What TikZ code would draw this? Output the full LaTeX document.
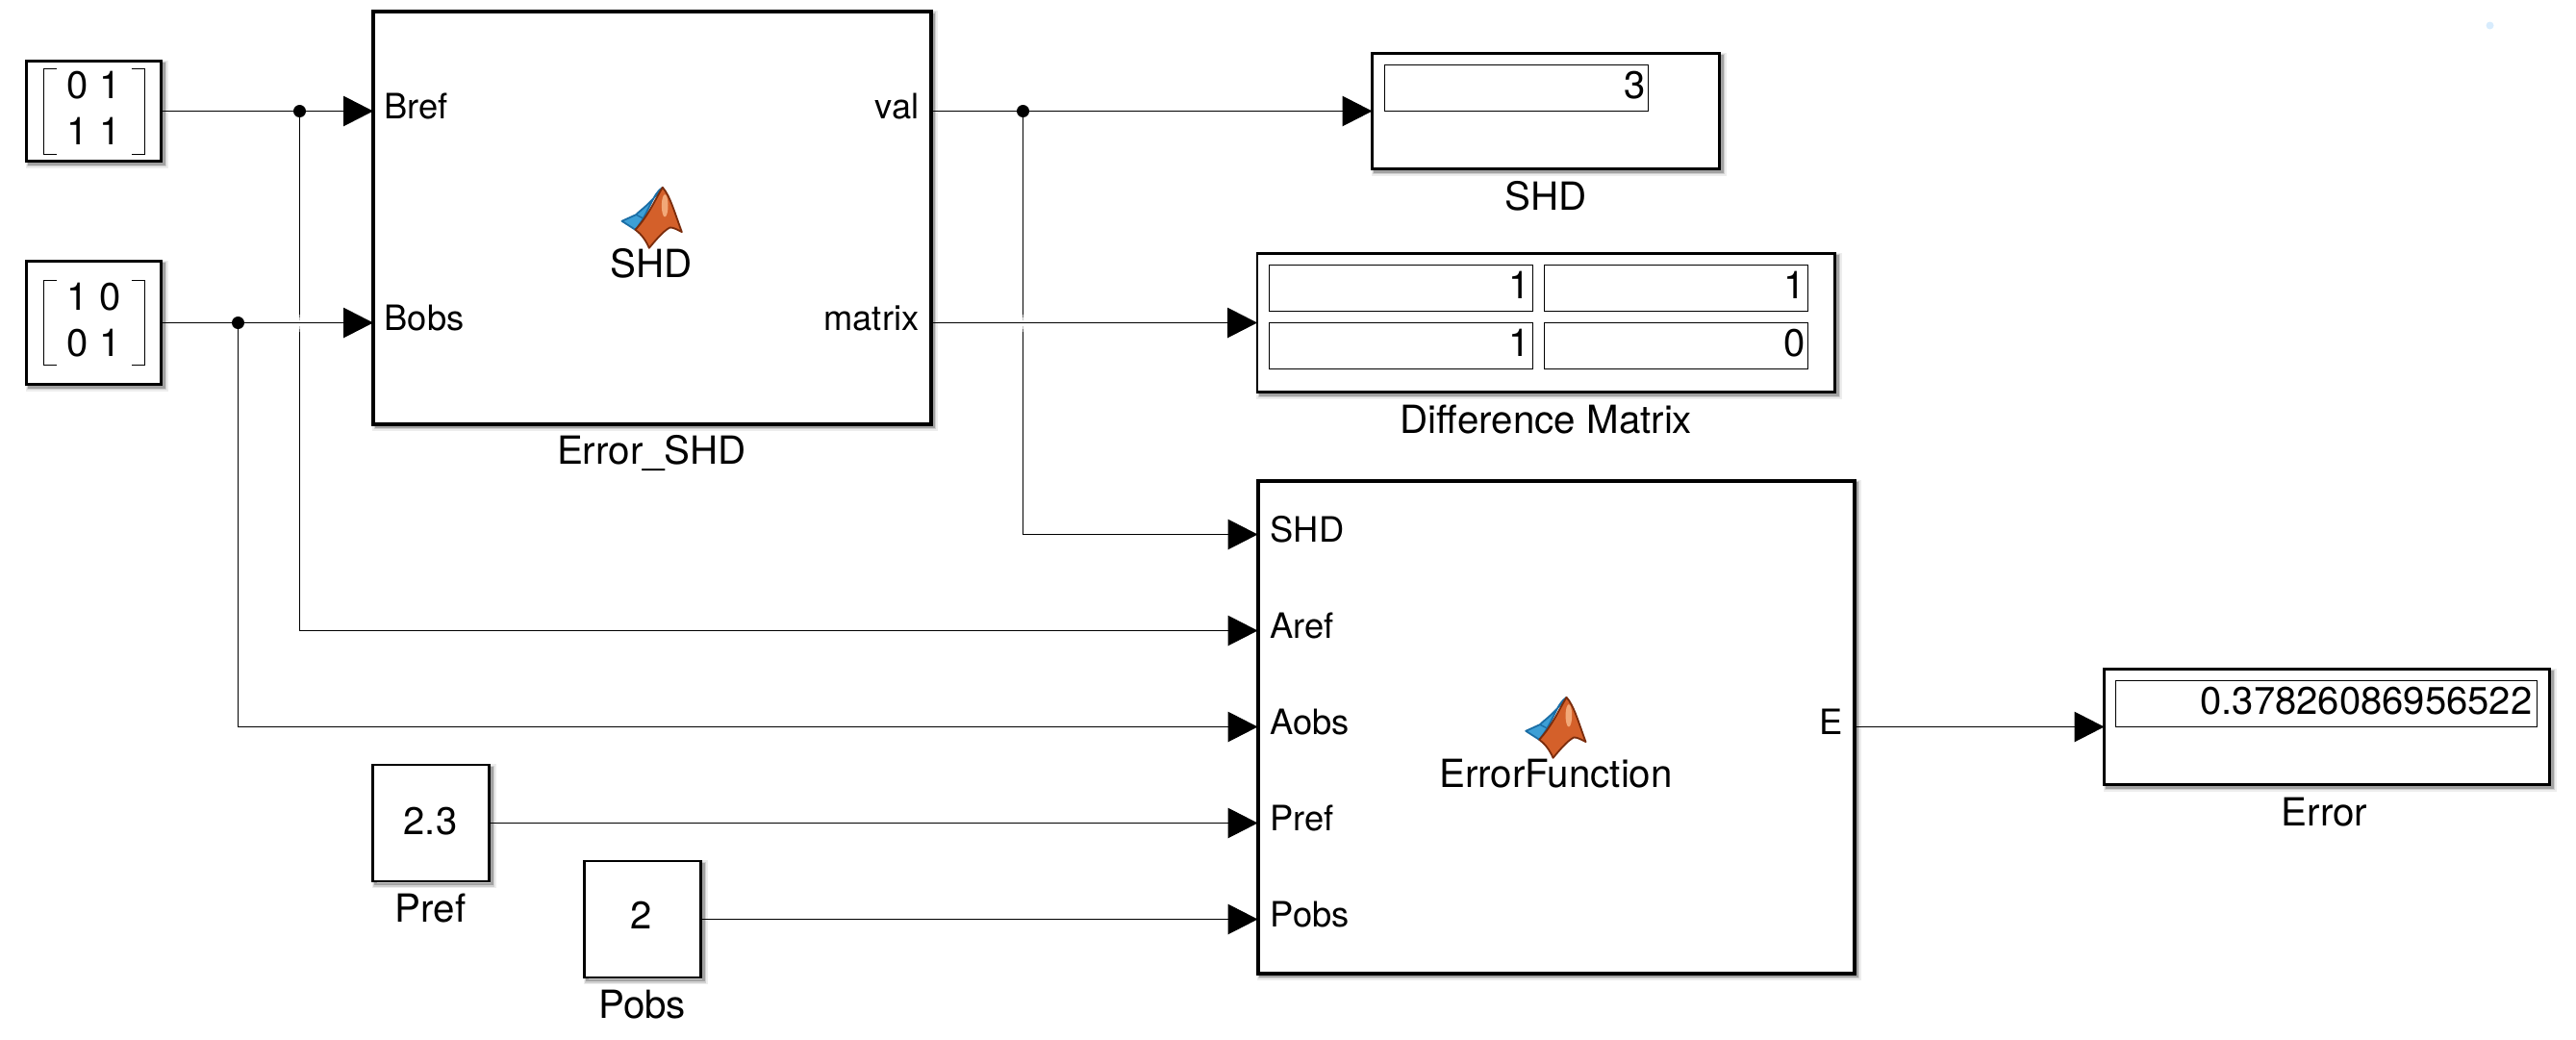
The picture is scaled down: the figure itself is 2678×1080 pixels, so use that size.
\documentclass[tikz,border=0pt]{standalone}
\usepackage{fontspec}
\setmainfont{TeX Gyre Heros}
\usetikzlibrary{arrows.meta}
\newcommand{\lblfont}{\fontsize{40.3}{45}\selectfont}
\newcommand{\valfont}{\fontsize{40}{45}\selectfont}
\newcommand{\portfont}{\fontsize{36.3}{41}\selectfont}
\definecolor{logoOrange}{HTML}{D4602A}
\definecolor{logoEdge}{HTML}{7A2C0C}
\definecolor{logoBlue}{HTML}{3D9FD6}
\definecolor{logoBlueEdge}{HTML}{1B6EA6}
\definecolor{logoLight}{HTML}{F2A878}
\definecolor{speck}{HTML}{D8ECFD}
\tikzset{
  softshadow/.style={
    preaction={draw=black,opacity=.07,line width=8pt,transform canvas={xshift=3pt,yshift=-3pt}},
    preaction={draw=black,opacity=.12,line width=5pt,transform canvas={xshift=3pt,yshift=-3pt}},
    preaction={draw=black,opacity=.22,line width=2.5pt,transform canvas={xshift=3pt,yshift=-3pt}}},
  blk/.style={draw=black,fill=white,line width=2.6pt,inner sep=0pt,outer sep=0pt,softshadow},
  mainblk/.style={blk,line width=4pt},
  cell/.style={draw=black,line width=1pt,inner sep=0pt,outer sep=0pt,minimum height=48pt},
  wire/.style={draw=black,line width=1pt},
  conn/.style={wire,-{Triangle[length=31pt,width=31.5pt,fill=black]}},
  jdot/.style={circle,fill=black,inner sep=0pt,minimum size=13pt,outer sep=0pt},
  val/.style={font=\valfont,inner sep=0pt,anchor=base},
  valr/.style={font=\valfont,inner sep=0pt,anchor=base east},
  lbl/.style={font=\lblfont,inner sep=0pt,anchor=base},
  port/.style={font=\portfont,inner sep=0pt,anchor=base west},
  portr/.style={font=\portfont,inner sep=0pt,anchor=base east},
  brk/.style={draw=black,line width=1pt},
  mlogo/.pic={
    \begin{scope}[x=0.3333pt,y=-0.3333pt,line join=round]
      \fill[logoBlue,draw=logoBlueEdge,line width=1.8pt] (0,0) -- (44,-20) .. controls (62,-38) and (85,-50) .. (127,-105) .. controls (95,-85) and (85,-25) .. (42,27) -- cycle;
      \draw[logoBlueEdge,line width=1.4pt] (44,-20) -- (75,-4);
      \fill[logoOrange,draw=logoEdge,line width=1.8pt] (127,-105) .. controls (150,-80) and (165,-25) .. (187,34) .. controls (170,25) and (160,20) .. (150,20) .. controls (130,30) and (105,60) .. (85,84) .. controls (75,60) and (60,40) .. (42,27) .. controls (85,-20) and (105,-70) .. (127,-105) -- cycle;
      \fill[logoLight] (134,-48) ellipse [x radius=10,y radius=35];
    \end{scope}
  }
}
\begin{document}
\begin{tikzpicture}[x=1pt,y=-1pt]
\useasboundingbox (0,0) rectangle (2678,1080);
\begin{scope}[shift={(0.5,0.5)}]

% speck in the top right corner
\fill[speck] (2588,26) circle [radius=4];

% blocks
\node[blk,minimum width=140pt,minimum height=104pt] (c1) at (97,115) {};
\node[blk,minimum width=140pt,minimum height=128pt] (c2) at (97,335) {};
\node[mainblk,minimum width=579.5pt,minimum height=428.7pt] (shd) at (677.25,225.65) {};
\node[mainblk,minimum width=620pt,minimum height=512pt] (ef) at (1617,755) {};
\node[blk,minimum width=361pt,minimum height=120pt] (dS) at (1606.5,115) {};
\node[blk,minimum width=600.5pt,minimum height=144pt] (dD) at (1606.75,335) {};
\node[blk,minimum width=463pt,minimum height=120pt] (dE) at (2418.5,755) {};
\node[blk,minimum width=121pt,minimum height=121pt] (pf) at (447.5,855) {};
\node[blk,minimum width=121pt,minimum height=121pt] (pb) at (667.5,955) {};

% display cells
\node[cell,minimum width=274pt] (cS) at (1576,91) {};
\node[cell,minimum width=274pt] (cD11) at (1456,299) {};
\node[cell,minimum width=274pt] (cD12) at (1742,299) {};
\node[cell,minimum width=274pt] (cD21) at (1456,359) {};
\node[cell,minimum width=274pt] (cD22) at (1742,359) {};
\node[cell,minimum width=438pt] (cE) at (2417.5,731) {};

% matrix brackets
\draw[brk] (58,71) -| (44.5,160) -- (58,160);
\draw[brk] (136,71) -| (149.5,160) -- (136,160);
\draw[brk] (58,291) -| (44.5,379) -- (58,379);
\draw[brk] (136,291) -| (149.5,379) -- (136,379);

% texts
\node[val] (t01) at (97,102) {0 1};
\node[val] (t11) at (97,149.5) {1 1};
\node[val] (t10) at (97,322) {1 0};
\node[val] (t02) at (97,369.5) {0 1};
\node[val] (v23) at (447,867) {2.3};
\node[val] (v2) at (666,965) {2};
\node[valr] (vS) at (1710,102) {3};
\node[valr] (v11) at (1590,310) {1};
\node[valr] (v12) at (1876,310) {1};
\node[valr] (v21) at (1590,370) {1};
\node[valr] (v22) at (1876,370) {0};
\node[valr] (vE) at (2632,742) {0.37826086956522};

\node[lbl] (lshd) at (677,482) {Error\_SHD};
\node[lbl] (tshd) at (676.5,288) {SHD};
\node[lbl] (tef) at (1617,818) {ErrorFunction};
\node[lbl] (ldS) at (1606.5,218) {SHD};
\node[lbl] (ldD) at (1607,450) {Difference Matrix};
\node[lbl] (ldE) at (2416,858) {Error};
\node[lbl] (lpf) at (447,958) {Pref};
\node[lbl] (lpb) at (667,1058) {Pobs};

\node[port] (pBref) at (399,123) {Bref};
\node[port] (pBobs) at (399,343) {Bobs};
\node[portr] (pval) at (955,123) {val};
\node[portr] (pmat) at (955,343) {matrix};
\node[port] (pSHD) at (1320,563) {SHD};
\node[port] (pAref) at (1320,663) {Aref};
\node[port] (pAobs) at (1320,763) {Aobs};
\node[port] (pPref) at (1320,863) {Pref};
\node[port] (pPobs) at (1320,963) {Pobs};
\node[portr] (pE) at (1915,763) {E};

% logos
\pic at (646,229.3) {mlogo};
\pic at (1585.7,759.3) {mlogo};

% junctions
\node[jdot] (j1) at (311,115) {};
\node[jdot] (j2) at (247,335) {};
\node[jdot] (j3) at (1063,115) {};

% input points on the ErrorFunction block
\coordinate (iS) at (ef.west |- 0,555);
\coordinate (iAr) at (ef.west |- 0,655);
\coordinate (iAo) at (ef.west |- 0,755);

% vertical branches
\draw[conn] (j1) |- (iAr);
\draw[conn] (j2) |- (iAo);
\draw[conn] (j3) |- (iS);

% fading of the vertical lines where a horizontal line crosses
\foreach \cx in {311,1063}{
  \draw[white,opacity=.4,line width=1.6pt] (\cx,326) -- (\cx,344);
  \draw[white,opacity=.6,line width=1.6pt] (\cx,329) -- (\cx,341);
  \draw[white,line width=1.6pt] (\cx,332) -- (\cx,338);
}

% horizontal connectors
\draw[conn] (c1.east) -- (c1.east -| shd.west);
\draw[conn] (c2.east) -- (c2.east -| shd.west);
\draw[conn] (dS.west -| shd.east) -- (dS.west);
\draw[conn] (dD.west -| shd.east) -- (dD.west);
\draw[conn] (ef.east) -- (dE.west);
\draw[conn] (pf.east) -- (pf.east -| ef.west);
\draw[conn] (pb.east) -- (pb.east -| ef.west);
\end{scope}
\end{tikzpicture}
\end{document}
